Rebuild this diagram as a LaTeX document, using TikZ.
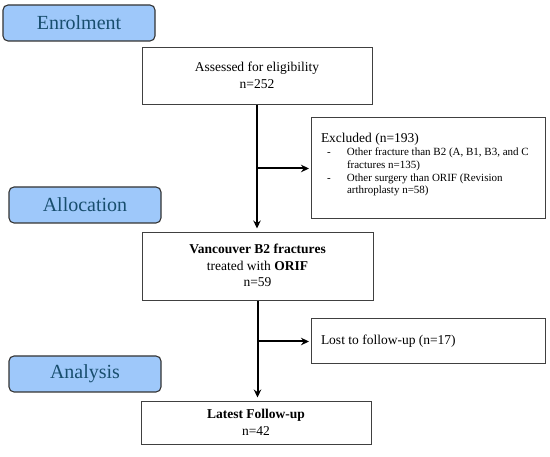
\documentclass[tikz,border=0pt]{standalone}
\usepackage{fontspec}
\setmainfont{Liberation Serif}
\usepackage{tikz}
\usetikzlibrary{shapes.geometric, arrows, arrows.meta}
\definecolor{stage}{RGB}{158,200,250}
\definecolor{stagetext}{RGB}{24,78,110}
\tikzstyle{stagebox} = [rectangle, rounded corners=5pt, minimum width=152pt, minimum height=36pt, text centered, draw=black!80, line width=1.1pt, fill=stage, text=stagetext, font=\fontsize{20}{24}\selectfont]
\tikzstyle{process} = [rectangle, minimum width=230pt, text centered, draw=black!75, line width=1pt, inner sep=0pt, font=\fontsize{13.5}{16.6}\selectfont]
\tikzstyle{sidebox} = [rectangle, minimum width=234pt, draw=black!75, line width=1pt, inner sep=0pt, font=\fontsize{13.5}{16.6}\selectfont]
\tikzstyle{arrow} = [line width=2pt,->,>={Stealth[length=8pt,width=7.5pt]}]

\begin{document}
\begin{tikzpicture}[x=1pt,y=-1pt]
		\useasboundingbox (0,0) rectangle (550,457);
		
		% Stages
		\node (enrol) [stagebox] at (79,23) {Enrolment};
		\node (alloc) [stagebox] at (85,205) {Allocation};
		\node (analysis) [stagebox] at (85,374) {Analysis};
		
		% Nodes
		\node (assess) [process, minimum height=57pt] at (257,76.5) {\raisebox{5pt}{\begin{tabular}{c}Assessed for eligibility\\ n=252\end{tabular}}};
		\node (excl) [sidebox, minimum height=101pt] at (428,168.5) {\parbox[c][101pt][t]{214pt}{\raggedright
				\rule{0pt}{25pt}Excluded (n=193)\par
				{\fontsize{11}{12.7}\selectfont
					\hangindent=26pt\hangafter=1\noindent\hspace*{6pt}\makebox[20pt][l]{-}Other fracture than B2 (A, B1, B3, and C fractures n=135)\par
					\hangindent=26pt\hangafter=1\noindent\hspace*{6pt}\makebox[20pt][l]{-}Other surgery than ORIF (Revision arthroplasty n=58)\par}}};
		\node (vanc) [process, minimum width=231pt, minimum height=68pt] at (257.5,267) {\begin{tabular}{c}\textbf{Vancouver B2 fractures}\\ treated with \textbf{ORIF}\\ n=59\end{tabular}};
		\node (lost) [sidebox, minimum height=45pt] at (428,341.5) {\parbox{214pt}{Lost to follow-up (n=17)}};
		\node (latest) [process, minimum height=43pt] at (256,423.5) {\begin{tabular}{c}\textbf{Latest Follow-up}\\ n=42\end{tabular}};
		
		% Arrows
		\draw [arrow, shorten >=4pt] (assess.south) -- (assess.south |- vanc.north);
		\draw [arrow, shorten >=1.5pt] (assess.south |- excl.west) -- (excl.west);
		\draw [arrow, shorten >=4pt] (vanc.south) -- (vanc.south |- latest.north);
		\draw [arrow, shorten >=1.5pt] (vanc.south |- lost.west) -- (lost.west);
		
	\end{tikzpicture}
\end{document}
